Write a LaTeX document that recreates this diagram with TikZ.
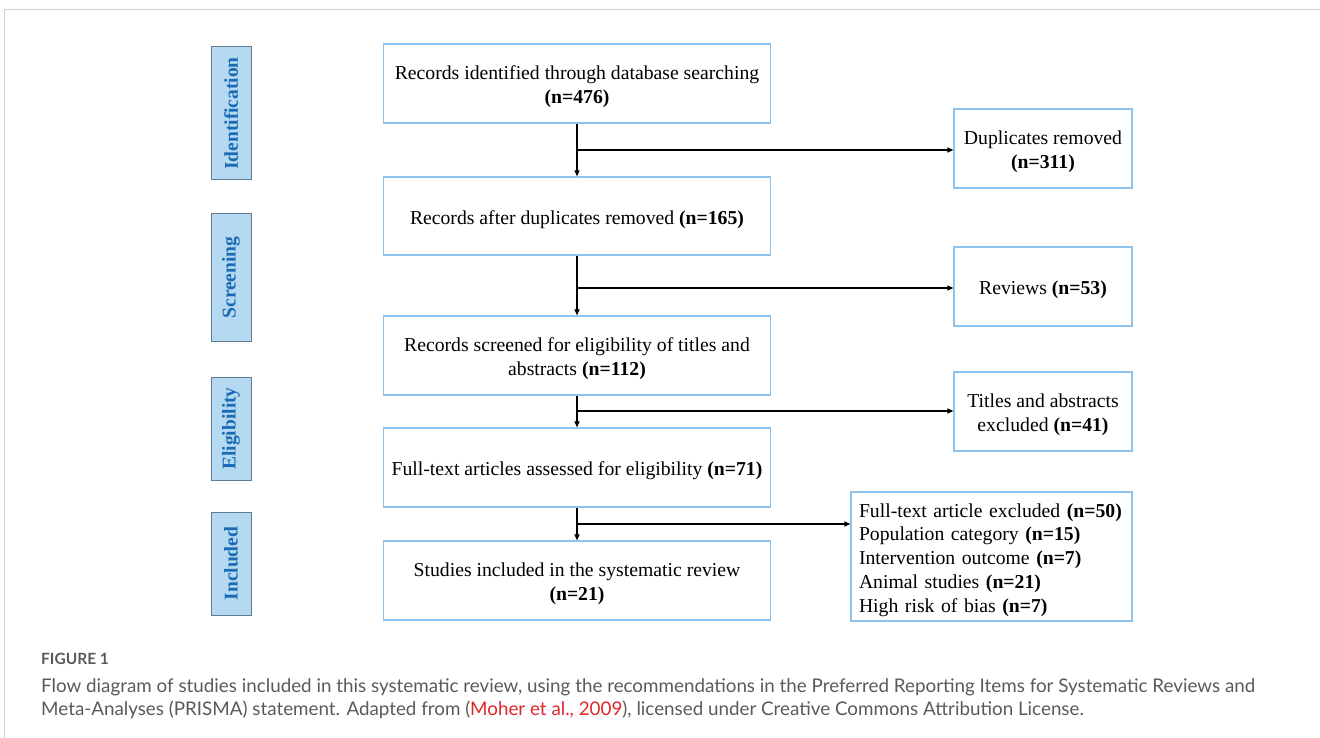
\documentclass[tikz,border=0pt]{standalone}
\usepackage{fontspec}
\setmainfont{Liberation Serif}
\newfontfamily\capfont{Lato}
\usetikzlibrary{arrows.meta}
\definecolor{boxblue}{HTML}{8DC3EC}
\definecolor{sidefill}{HTML}{B5D9F1}
\definecolor{sideedge}{HTML}{5F7C96}
\definecolor{sidetext}{HTML}{1A6BB6}
\definecolor{capgrey}{HTML}{5A5A5A}
\definecolor{capred}{HTML}{E0262C}
\definecolor{framegrey}{HTML}{D0D0D0}
\newcommand\tstrut{\rule{0pt}{20.5pt}}
\begin{document}
\begin{tikzpicture}[x=1pt,y=-1pt,
  mainbox/.style={draw=boxblue, line width=1.2pt, minimum width=387pt, minimum height=79pt,
    align=center, inner sep=0pt, font=\fontsize{19.7}{24}\selectfont},
  sidebox/.style={draw=boxblue, line width=1.2pt, minimum width=178pt, minimum height=79pt,
    align=center, inner sep=0pt, font=\fontsize{19.7}{23.5}\selectfont},
  stagebox/.style={draw=sideedge, fill=sidefill, line width=1pt, rotate=90, minimum height=40pt,
    inner sep=0pt, text=sidetext, font=\fontsize{19.5}{24}\selectfont\bfseries},
  flow/.style={line width=1.1pt, -{Triangle[length=6pt,width=5pt]}},
]
\useasboundingbox (0,0) rectangle (1320,738);
% frame
\draw[framegrey, line width=1.5pt] (4.5,738) -- (4.5,9.5) -- (1320,9.5);

% stage labels
\node[stagebox, minimum width=133pt] (s1) at (231,113.5) {Identification};
\node[stagebox, minimum width=127pt] (s2) at (231,277.5) {Screening};
\node[stagebox, minimum width=103pt] (s3) at (231,428.5) {Eligibility};
\node[stagebox, minimum width=103pt] (s4) at (231,563.5) {Included};

% main boxes
\node[mainbox] (b1) at (577,83.5) {\tstrut Records identified through database searching\\\textbf{(n=476)}};
\node[mainbox, minimum height=78pt] (b2) at (577,216) {\tstrut Records after duplicates removed \textbf{(n=165)}};
\node[mainbox] (b3) at (577,355.5) {\tstrut Records screened for eligibility of titles and\\abstracts \textbf{(n=112)}};
\node[mainbox] (b4) at (577,467.5) {\tstrut Full-text articles assessed for eligibility \textbf{(n=71)}};
\node[mainbox] (b5) at (577,580.5) {\tstrut Studies included in the systematic review\\\textbf{(n=21)}};

% side boxes
\node[sidebox] (r1) at (1043,148.5) {\tstrut Duplicates removed\\\textbf{(n=311)}};
\node[sidebox] (r2) at (1043,286.5) {\tstrut Reviews \textbf{(n=53)}};
\node[sidebox] (r3) at (1043,411.5) {\tstrut Titles and abstracts\\excluded \textbf{(n=41)}};
\node[draw=boxblue, line width=1.2pt, minimum width=281pt, minimum height=129pt,
  text width=265pt, inner xsep=8pt, inner ysep=0pt, align=left,
  font=\fontsize{19.7}{23.7}\selectfont] (r4) at (991.5,556.5)
  {\tstrut Full-text article excluded \textbf{(n=50)}\\
   Population category \textbf{(n=15)}\\
   Intervention outcome \textbf{(n=7)}\\
   Animal studies \textbf{(n=21)}\\
   High risk of bias \textbf{(n=7)}};

% vertical flow
\draw[flow] (b1) -- (b2);
\draw[flow] (b2) -- (b3);
\draw[flow] (b3) -- (b4);
\draw[flow] (b4) -- (b5);

% branches
\coordinate (j1) at (577,150);
\coordinate (j2) at (577,288);
\coordinate (j3) at (577,411);
\coordinate (j4) at (577,524);
\draw[flow] (j1) -- (j1 -| r1.west);
\draw[flow] (j2) -- (j2 -| r2.west);
\draw[flow] (j3) -- (j3 -| r3.west);
\draw[flow] (j4) -- (j4 -| r4.west);

% caption
\node[anchor=west, inner sep=0pt, text=capgrey, font=\capfont\fontsize{15.5}{20}\selectfont\bfseries] (fig) at (41,659) {FIGURE 1};
\node[anchor=north west, inner sep=0pt, align=left, text=capgrey, font=\capfont\fontsize{18.8}{23}\selectfont] (cap) at (41,678)
 {Flow diagram of studies included in this systematic review, using the recommendations in the Preferred Reporting Items for Systematic Reviews and\\
  Meta-Analyses (PRISMA) statement. Adapted from (\textcolor{capred}{Moher et al., 2009}), licensed under Creative Commons Attribution License.};
\end{tikzpicture}
\end{document}
